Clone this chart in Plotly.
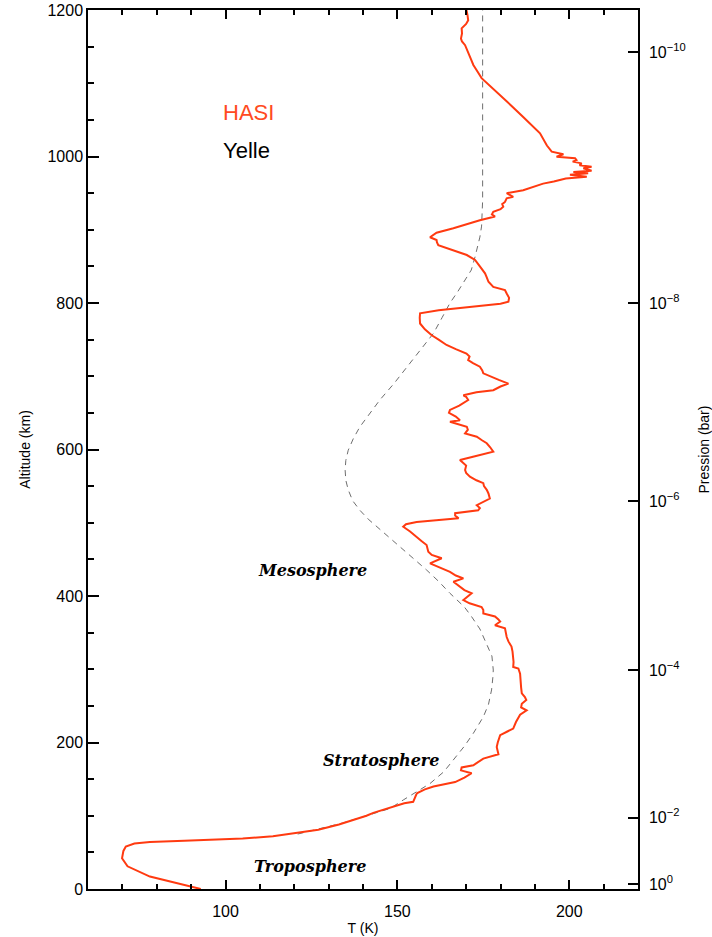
import plotly.graph_objects as go

# HASI temperature profile (altitude km, temperature K)
hasi_alt = [0, 8, 17, 31, 42, 52, 58, 62, 64, 66, 67.3, 69, 72, 76, 81, 88, 94.7, 100, 104, 110,
            113, 117, 119, 124, 129, 131, 136, 140, 146, 152, 158, 162, 166, 169, 173, 178, 184, 194,
            200, 210, 215, 219, 228, 238, 244, 248, 253, 258, 262, 267, 275, 285, 294, 301, 303, 310,
            317, 324, 331, 338, 344, 350, 356, 360, 365, 368, 372, 376, 381, 385, 390, 394.5, 400,
            403.7, 408, 412.7, 419.5, 424, 428, 433, 440, 444.6, 451.5, 456, 460.5, 466, 469.6, 475,
            481, 488, 494.6, 498, 501, 504, 506, 510, 513, 517, 520, 524, 528, 533, 540, 545, 550, 554,
            558, 563, 568, 572, 578, 582, 585.7, 590, 597, 603, 608.5, 613, 617.5, 622, 627, 631, 635,
            638, 640, 645, 650, 654, 660, 667.6, 672, 674, 678, 681, 686, 690, 695, 700, 704, 708, 713,
            718, 722, 727, 731, 737, 742.7, 750, 756, 764, 772, 780, 786, 790, 795, 799, 801.8, 807,
            813, 817.7, 822, 829, 835, 840.5, 850, 858.7, 865.5, 872, 879, 883, 886, 889.7, 893, 896,
            902, 908, 913, 918, 921, 924.6, 928, 931.5, 935, 938, 943, 945, 947.5, 950, 954, 958, 961,
            963, 966, 968, 970, 972.4, 975, 977, 979, 980.6, 984, 986, 988, 990.6, 993, 995, 997.5,
            999.7, 1003, 1006.6, 1015, 1031.6, 1042, 1054, 1070, 1084, 1096, 1107, 1116, 1125, 1133,
            1141, 1147, 1152, 1157, 1161, 1168, 1175, 1181, 1186, 1193, 1200]
hasi_t = [92.8, 86, 78, 71.5, 69.9, 70.3, 71, 73.5, 78, 88, 96, 105, 113.8, 120, 127, 133, 137.5, 141,
          143, 146.9, 149, 152, 154.6, 155, 155.5, 155.8, 158, 160.5, 166.8, 169.5, 171.6, 168.5,
          168.7, 172.1, 173.5, 175, 179.4, 178.9, 179.2, 179.9, 182, 183.7, 184.5, 185.7, 187.6, 186,
          186.2, 187.5, 187.1, 186.2, 186, 185.8, 185.7, 185.2, 183.7, 183.8, 183.7, 183.5, 183.2,
          182.3, 181.8, 181.5, 181.3, 178.4, 179.9, 179.4, 178.4, 175, 175, 174.5, 171, 169.2, 170.5,
          171.6, 169.5, 168.2, 166.3, 169.2, 167, 165.3, 162, 159.5, 162.9, 160, 159, 158.8, 158.5,
          157, 155.6, 153.7, 151.7, 152.5, 155.6, 162, 167.8, 166.8, 166.8, 173.5, 174, 173.1, 175,
          176.9, 176.5, 176, 175.2, 175, 173, 171.1, 170, 169.7, 170, 169, 168.2, 172, 177.9, 177,
          176, 174.5, 173.1, 169.7, 170.5, 170.2, 167, 165.3, 168.2, 167, 165, 165.3, 168, 170.6, 170,
          169.2, 173, 177.9, 180, 182.3, 179.5, 177, 175, 174.7, 174, 172, 170.6, 171, 170.1, 167,
          164.3, 162, 160, 158, 156.6, 156.5, 156.6, 162, 172, 180, 182.3, 182.5, 181.8, 181.3, 177.9,
          176.5, 176, 175.5, 174, 172.6, 170.2, 166.3, 161.9, 161.5, 161.4, 159.5, 160.5, 161.4,
          166.3, 170.5, 174, 178.4, 177.5, 177.9, 180, 180.8, 180.5, 181.3, 181.8, 183.7, 182.8,
          181.8, 186.6, 189.5, 191.5, 192.4, 195.5, 197.8, 199, 205.1, 200.2, 205.5, 201.2, 206.5,
          204.1, 206.5, 203, 203.6, 201, 202.1, 201.7, 196.3, 198.3, 194.9, 193.5, 191.5, 189.3,
          186.6, 183, 179.9, 177, 174.5, 173.3, 172.1, 171.4, 170.6, 170, 169.7, 168.8, 168.5, 168.8,
          168.7, 170, 170.6, 170.4, 170.1]

# Yelle model profile
yelle_alt = [75, 90, 100, 110, 121.5, 144, 160, 176, 195, 212.6, 235, 252, 271.7, 290, 299, 318, 335,
             355, 371.7, 385, 403.7, 420, 435.5, 450, 467, 480, 494.6, 505, 517, 530, 545, 558, 572,
             585, 599, 615, 631, 650, 667.6, 690, 717.7, 740, 758.6, 780, 800, 815, 827, 845, 863,
             880, 890, 905, 920, 940, 1000, 1100, 1200]
yelle_t = [121, 134, 141, 147.9, 151.7, 159.5, 163.5, 166.3, 169.5, 172.1, 175, 176.5, 177.4, 177.8,
           177.9, 177.5, 176, 174, 171.6, 169.5, 165.3, 162, 158.5, 155, 150.8, 147.5, 144, 141.5,
           139.1, 137, 135.7, 135, 134.8, 135, 135.7, 137.2, 139.1, 142, 144.9, 149, 153.7, 157.5,
           160.5, 163, 165.3, 167.5, 169.2, 171.5, 172.6, 173.5, 174, 174.5, 174.7, 174.8, 174.8,
           174.8, 174.8]

# Pressure axis (bar): altitude of each decade
pres_alt = [6.8, 97.6, 299, 529.7, 800, 1142.7]
pres_text = ["10<sup>0</sup>", "10<sup>−2</sup>", "10<sup>−4</sup>", "10<sup>−6</sup>",
             "10<sup>−8</sup>", "10<sup>−10</sup>"]

layer_names = ["Troposphere", "Stratosphere", "Mesosphere"]
layer_t = [124.6, 145.2, 125.2]
layer_alt = [31, 175, 435.5]

FONT = "Liberation Sans, Arial, sans-serif"

fig = go.Figure()
fig.add_trace(go.Scatter(x=yelle_t, y=yelle_alt, mode="lines",
                         line=dict(color="#6e6e6e", width=1, dash="6px,5px"),
                         showlegend=False, hoverinfo="skip"))
fig.add_trace(go.Scatter(x=hasi_t, y=hasi_alt, mode="lines",
                         line=dict(color="#ff3a10", width=2),
                         showlegend=False, hoverinfo="skip"))
fig.add_trace(go.Scatter(x=[None], y=[None], yaxis="y2", mode="lines",
                         showlegend=False, hoverinfo="skip"))

for name, t, a in zip(layer_names, layer_t, layer_alt):
    fig.add_annotation(x=t, y=a, xref="x", yref="y", text="<b><i>" + name + "</i></b>",
                       showarrow=False,
                       font=dict(family="DejaVu Serif, serif", size=16, color="black"))

fig.add_annotation(x=98.6, y=1060, xref="x", yref="y", text="HASI", xanchor="left",
                   showarrow=False, font=dict(family=FONT, size=22, color="#ff4a22"))
fig.add_annotation(x=98.6, y=1008, xref="x", yref="y", text="Yelle", xanchor="left",
                   showarrow=False, font=dict(family=FONT, size=22, color="black"))

fig.update_layout(
    width=712, height=937,
    margin=dict(l=88, r=74, t=10, b=48, autoexpand=False),
    paper_bgcolor="white", plot_bgcolor="white",
    font=dict(family=FONT, size=16, color="black"),
    xaxis=dict(range=[60, 220], tickvals=[100, 150, 200], ticks="inside", ticklen=9,
               tickwidth=1.5, tickcolor="black", showline=True, linecolor="black", linewidth=1.5,
               mirror="ticks", showgrid=False, zeroline=False, automargin=False,
               ticklabelstandoff=7,
               minor=dict(dtick=10, tick0=0, ticks="inside", ticklen=5, tickwidth=1.5,
                          tickcolor="black", showgrid=False),
               title=dict(text="T (K)", font=dict(size=14), standoff=4),
               tickfont=dict(size=16)),
    yaxis=dict(range=[0, 1200], dtick=200, ticks="inside", ticklen=11, tickwidth=1.5,
               tickcolor="black", showline=True, linecolor="black", linewidth=1.5,
               showgrid=False, zeroline=False, automargin=False,
               minor=dict(dtick=50, ticks="inside", ticklen=6, tickwidth=1.5,
                          tickcolor="black", showgrid=False),
               title=dict(text="Altitude (km)", font=dict(size=14), standoff=14),
               tickfont=dict(size=16)),
    yaxis2=dict(range=[0, 1200], overlaying="y", side="right", tickmode="array",
                tickvals=pres_alt, ticktext=pres_text, ticks="inside", ticklen=10,
                tickwidth=1.5, tickcolor="black", showline=True, linecolor="black",
                linewidth=1.5, showgrid=False, zeroline=False, automargin=False,
                ticklabelstandoff=6,
                title=dict(text="Pression (bar)", font=dict(size=14), standoff=14),
                tickfont=dict(size=16)),
)

fig.write_html("out.html", config={"displayModeBar": False},
               post_script="document.body.style.margin='0';")
